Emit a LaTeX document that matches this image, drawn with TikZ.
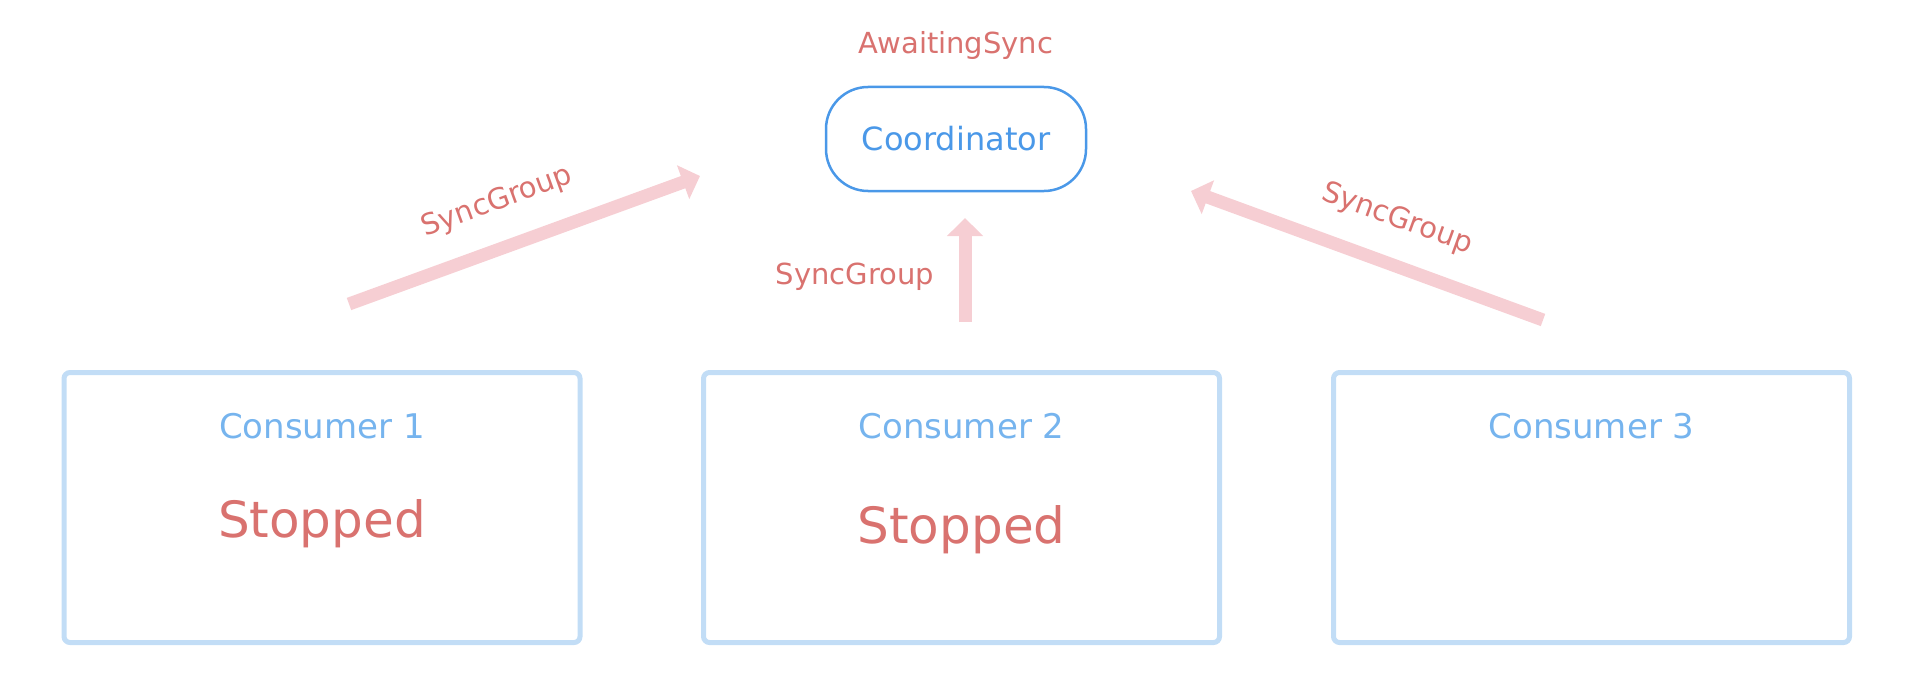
\documentclass[tikz,border=0pt]{standalone}
\usepackage{fontspec}
\setmainfont{DejaVu Sans}
\usetikzlibrary{arrows.meta}
\definecolor{txtred}{HTML}{D9726F}
\definecolor{arrpink}{HTML}{F6CED3}
\definecolor{coordblue}{HTML}{4A98E8}
\definecolor{lblblue}{HTML}{76B4EE}
\definecolor{boxblue}{HTML}{C2DDF6}
\begin{document}
\begin{tikzpicture}[x=0.5pt,y=-0.5pt,
  consumerbox/.style={draw=boxblue, line width=2.5pt, rounded corners=3pt, minimum width=258pt, minimum height=135pt, inner sep=0pt},
  coordbox/.style={draw=coordblue, line width=1.25pt, rounded corners=21pt, minimum width=130pt, minimum height=52pt, inner sep=0pt, text=coordblue, font=\fontsize{16pt}{19pt}\selectfont},
  redlabel/.style={text=txtred, font=\fontsize{14.5pt}{17pt}\selectfont, inner sep=0pt},
  conslabel/.style={text=lblblue, font=\fontsize{17pt}{20pt}\selectfont, inner sep=0pt},
  statelabel/.style={text=txtred, font=\fontsize{25pt}{30pt}\selectfont, inner sep=0pt},
  bigarrow/.style={draw=arrpink, line width=6.5pt, -{Triangle[width=17.5pt,length=9pt]}}
]
\useasboundingbox (0,0) rectangle (1920,690);

% Coordinator
\node[coordbox] (coord) at (956,139) {Coordinator};
\node[redlabel] (await) at (956,45) {AwaitingSync};

% Consumers
\node[consumerbox] (c1) at (322,507.5) {};
\node[consumerbox] (c2) at (961.5,507.5) {};
\node[consumerbox] (c3) at (1591.5,507.5) {};
\node[conslabel] (c1l) at (322,426) {Consumer 1};
\node[conslabel] (c2l) at (961.5,426) {Consumer 2};
\node[conslabel] (c3l) at (1591.5,426) {Consumer 3};
\node[statelabel] (c1s) at (322,524) {Stopped};
\node[statelabel] (c2s) at (961.5,530) {Stopped};

% Arrow end points
\coordinate (a1s) at (349,304);
\coordinate (a1e) at (700,176);
\coordinate (a2s) at (965,322);
\coordinate (a2e) at (965,218);
\coordinate (a3s) at (1543,320);
\coordinate (a3e) at (1191,191);

\draw[bigarrow] (a1s) -- (a1e);
\draw[bigarrow] (a2s) -- (a2e);
\draw[bigarrow] (a3s) -- (a3e);

\node[redlabel, rotate=20] (l1) at (497,202) {SyncGroup};
\node[redlabel] (l2) at (855,277) {SyncGroup};
\node[redlabel, rotate=-20] (l3) at (1397,219) {SyncGroup};
\end{tikzpicture}
\end{document}
